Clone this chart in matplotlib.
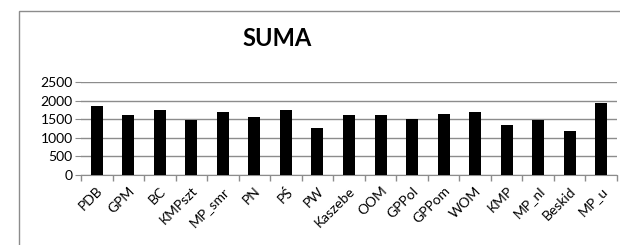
import matplotlib as mpl
mpl.use('Agg')
import matplotlib.pyplot as plt
from matplotlib.patches import Rectangle

# dane
kategorie = ['PDB', 'GPM', 'BC', 'KMPszt', 'MP_smr', 'PN', 'PŚ', 'PW', 'Kaszebe',
             'OOM', 'GPPol', 'GPPom', 'WOM', 'KMP', 'MP_nl', 'Beskid', 'MP_u']
suma = [1852, 1619, 1736, 1475, 1691, 1556, 1745, 1259, 1610,
        1619, 1493, 1637, 1691, 1340, 1466, 1187, 1942]
y_ticks = [0, 500, 1000, 1500, 2000, 2500]

plt.rcParams['font.family'] = ['Lato', 'DejaVu Sans']

fig = plt.figure(figsize=(6.2, 2.45), dpi=100)
ax = fig.add_axes([81 / 620, 70 / 245, 536 / 620, 93 / 245])

# ramka wykresu
fig.patches.append(Rectangle((18.5 / 620, -0.2), 1.2, 1.2 - 11 / 245,
                             transform=fig.transFigure, fill=False,
                             edgecolor='#8c8c8c', linewidth=1.0))

x = range(len(kategorie))
ax.bar(x, suma, width=0.38, color='black', zorder=3)

ax.set_xlim(-0.5, len(kategorie) - 0.5)
ax.set_ylim(0, 2500)
ax.set_yticks(y_ticks)
ax.yaxis.grid(True, color='#8c8c8c', linewidth=1.0, zorder=0)
ax.tick_params(axis='y', length=4, color='#8c8c8c', labelsize=10, pad=2)

ax.set_xticks(list(x))
ax.set_xticklabels(kategorie, rotation=45, ha='right', rotation_mode='anchor',
                   fontsize=10)
ax.tick_params(axis='x', which='major', length=0, pad=7)
ax.set_xticks([i - 0.5 for i in range(len(kategorie) + 1)], minor=True)
ax.tick_params(axis='x', which='minor', length=4, color='#8c8c8c', width=1.0)

for s in ['top', 'right', 'left']:
    ax.spines[s].set_visible(False)
ax.spines['bottom'].set_color('#8c8c8c')

fig.text(277 / 620, 1 - 38 / 245, 'SUMA', ha='center', va='center',
         fontsize=17, fontweight='bold')

fig.savefig('out.png')
plt.close()
